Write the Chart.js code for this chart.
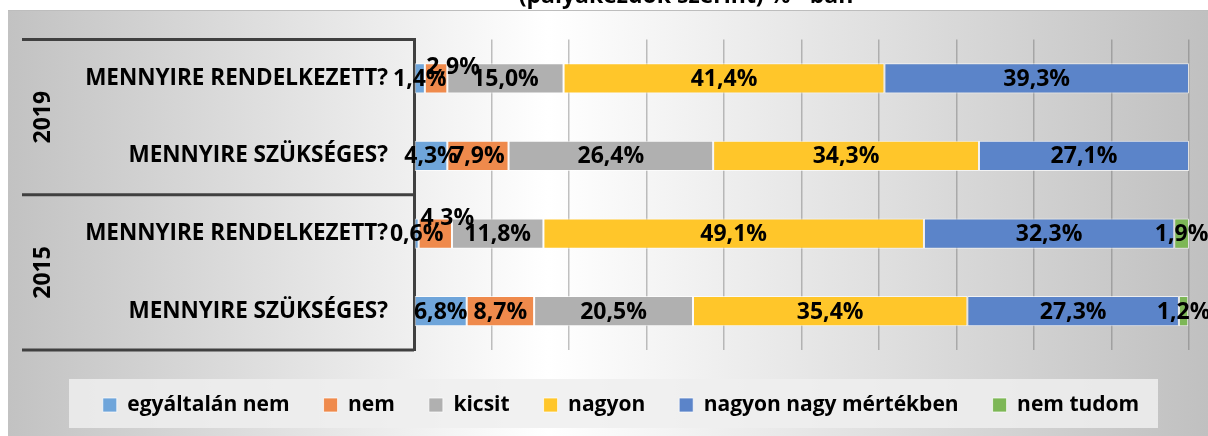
<!DOCTYPE html>
<html>
<head>
<meta charset="utf-8">
<script src="https://cdn.jsdelivr.net/npm/chart.js@4"></script>
<style>
  html, body { margin: 0; padding: 0; background: #fff; }
  canvas { display: block; }
</style>
</head>
<body>
<canvas id="kerdoiv" width="1208" height="436"></canvas>
<script>
// sorok: minden évhez két kérdés
let evek = ['2019', '2015'];
let kerdesek = ['MENNYIRE RENDELKEZETT?', 'MENNYIRE SZÜKSÉGES?', 'MENNYIRE RENDELKEZETT?', 'MENNYIRE SZÜKSÉGES?'];

// válaszok megoszlása (%)
let egyaltalanNem = [1.4, 4.3, 0.6, 6.8];
let nem = [2.9, 7.9, 4.3, 8.7];
let kicsit = [15.0, 26.4, 11.8, 20.5];
let nagyon = [41.4, 34.3, 49.1, 35.4];
let nagyonNagy = [39.3, 27.1, 32.3, 27.3];
let nemTudom = [null, null, 1.9, 1.2];

let cimSor = '(pályakezdők szerint) % - ban';

let betu = "'Open Sans', 'DejaVu Sans', sans-serif";

// háttér: fehér csík a cím alatt, majd szürke-fehér-szürke átmenet
const hatter = {
    id: 'hatter',
    beforeDraw(chart) {
        const c = chart.ctx;
        const w = chart.width, h = chart.height;
        c.save();
        c.fillStyle = '#ffffff';
        c.fillRect(0, 0, w, h);
        let g = c.createLinearGradient(8, 0, w, 0);
        g.addColorStop(0, '#c2c2c2');
        g.addColorStop(0.45, '#ffffff');
        g.addColorStop(1, '#c0c0c0');
        c.fillStyle = g;
        c.fillRect(8, 10, w - 8, h - 10);
        c.strokeStyle = '#bdbdbd';
        c.lineWidth = 1;
        c.beginPath();
        c.moveTo(8, 10.5);
        c.lineTo(w, 10.5);
        c.stroke();

        // cím (csak az alja látszik)
        c.fillStyle = '#000';
        c.font = 'bold 23px ' + betu;
        c.textAlign = 'center';
        c.textBaseline = 'alphabetic';
        c.fillText(cimSor, 686, 3);

        // jelmagyarázat doboza
        c.fillStyle = 'rgba(238,238,238,0.85)';
        c.fillRect(69, 379, 1089, 49);
        c.restore();
    }
};

// évek és elválasztó vonalak a kategória tengelyen
const csoportok = {
    id: 'csoportok',
    afterDraw(chart) {
        const c = chart.ctx;
        const y = chart.scales.y;
        const a = chart.chartArea;
        const lepes = y.getPixelForValue(1) - y.getPixelForValue(0);
        c.save();
        c.strokeStyle = '#404040';
        c.lineWidth = 3;
        [a.top, y.getPixelForValue(1) + lepes / 2, a.bottom].forEach(yy => {
            c.beginPath();
            c.moveTo(22, yy);
            c.lineTo(a.left, yy);
            c.stroke();
        });
        c.fillStyle = '#000';
        c.font = 'bold 23px ' + betu;
        c.textAlign = 'center';
        c.textBaseline = 'middle';
        evek.forEach((ev, i) => {
            const yy = (y.getPixelForValue(i * 2) + y.getPixelForValue(i * 2 + 1)) / 2;
            c.save();
            c.translate(43, yy);
            c.rotate(-Math.PI / 2);
            c.fillText(ev, 0, 0);
            c.restore();
        });
        c.restore();
    }
};

// értékcímkék a szakaszok közepére; az egymásra csúszók kicsit feljebb
const cimkeEltolas = { '1-0': [17, -12], '1-2': [12, -16] };
const ertekek = {
    id: 'ertekek',
    afterDatasetsDraw(chart) {
        const c = chart.ctx;
        c.save();
        c.fillStyle = '#000';
        c.font = 'bold 23px ' + betu;
        c.textAlign = 'center';
        c.textBaseline = 'middle';
        chart.data.datasets.forEach((ds, di) => {
            chart.getDatasetMeta(di).data.forEach((bar, i) => {
                const v = ds.data[i];
                if (v == null) return;
                const off = cimkeEltolas[di + '-' + i] || [0, 0];
                const x = (bar.x + bar.base) / 2 + off[0];
                c.fillText(v.toFixed(1).replace('.', ',') + '%', x, bar.y + off[1] + 1);
            });
        });
        c.restore();
    }
};

let adatok = {
    labels: kerdesek,
    datasets: [
        { label: 'egyáltalán nem', data: egyaltalanNem, backgroundColor: '#6fa5da' },
        { label: 'nem', data: nem, backgroundColor: '#ef8a4c' },
        { label: 'kicsit', data: kicsit, backgroundColor: '#b0b0b0' },
        { label: 'nagyon', data: nagyon, backgroundColor: '#ffc62a' },
        { label: 'nagyon nagy mértékben', data: nagyonNagy, backgroundColor: '#5b84c9' },
        { label: 'nem tudom', data: nemTudom, backgroundColor: '#7db756' }
    ].map(d => Object.assign(d, {
        borderColor: 'rgba(255,255,255,0.7)',
        borderWidth: 1,
        borderSkipped: false,
        categoryPercentage: 1,
        barPercentage: 0.39
    }))
};

new Chart(document.getElementById('kerdoiv').getContext('2d'), {
    type: 'bar',
    data: adatok,
    plugins: [hatter, csoportok, ertekek],
    options: {
        indexAxis: 'y',
        responsive: false,
        animation: false,
        devicePixelRatio: 1,
        layout: { padding: { top: 38, left: 53, right: 19, bottom: 10.5 } },
        scales: {
            x: {
                stacked: true,
                min: 0,
                max: 100,
                ticks: { display: false, stepSize: 10 },
                grid: { color: 'rgba(100,100,100,0.4)', lineWidth: 1.5, drawTicks: false },
                border: { display: false },
                afterFit(scale) { scale.height = 10.5; }
            },
            y: {
                stacked: true,
                grid: { display: false, drawTicks: false },
                border: { color: '#404040', width: 3 },
                ticks: {
                    color: '#000',
                    padding: 26,
                    font: { family: betu, size: 22.5, weight: 'bold' }
                },
                afterFit(scale) { scale.width = 361; }
            }
        },
        plugins: {
            legend: {
                position: 'bottom',
                labels: {
                    color: '#000',
                    boxWidth: 14,
                    boxHeight: 14,
                    padding: 34,
                    font: { family: betu, size: 21, weight: 'bold' }
                }
            },
            tooltip: { enabled: false }
        }
    }
});
</script>
</body>
</html>
